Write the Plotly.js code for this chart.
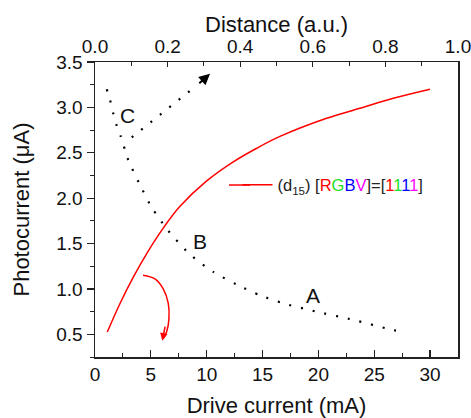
<!DOCTYPE html>
<html>
<head>
<meta charset="utf-8">
<script src="https://cdn.plot.ly/plotly-3.0.1.min.js"></script>
<style>html,body{margin:0;padding:0;background:#fff;}#plot{width:471px;height:418px;}</style>
</head>
<body>
<div id="plot"></div>
<script>
// Red photocurrent curve (d15) [RGBV]=[1111]
const driveCurrent = [1.10, 2.24, 3.43, 4.63, 6.11, 7.61, 10.0, 12.38, 14.48, 16.56, 20.74, 23.72, 26.71, 29.99];
const photocurrent = [0.525, 0.84, 1.13, 1.39, 1.67, 1.91, 2.19, 2.40, 2.55, 2.68, 2.88, 2.99, 3.10, 3.20];

// Red hook arrow
const hookX = [4.30, 5.37, 6.11, 6.56, 6.62, 6.42, 6.15];
const hookY = [1.15, 1.11, 1.00, 0.84, 0.67, 0.53, 0.46];
const hookTip = [6.03, 0.43];

// Black dotted trajectory C -> B -> A
const pathX = [1.05, 1.35, 1.64, 1.94, 2.30, 2.98, 3.97, 5.08, 6.56, 8.50, 10.59, 12.69, 14.77, 16.9, 19.8, 23.1, 26.4, 27.6];
const pathY = [3.20, 3.08, 2.93, 2.80, 2.684, 2.42, 2.16, 1.897, 1.64, 1.38, 1.187, 1.048, 0.93, 0.84, 0.75, 0.66, 0.555, 0.525];

// Black dotted arrow from C
const arrowX = [3.29, 8.8];
const arrowY = [2.67, 3.21];
const arrowTip = [10.3, 3.37];

// Labels
const labelText = ['C', 'B', 'A'];
const labelX = [2.95, 9.4, 19.5];
const labelY = [2.915, 1.518, 0.93];

const topTicks = [0, 0.2, 0.4, 0.6, 0.8, 1.0];
const topTickText = ['0.0', '0.2', '0.4', '0.6', '0.8', '1.0'];
const topTitle = 'Distance (a.u.)';

const FONT = 'Arial, "Liberation Sans", sans-serif';
const legendName = '(d<sub>15</sub>) [<span style="color:#ff0000">R</span><span style="color:#22dd22">G</span><span style="color:#0000ff">B</span><span style="color:#ff00ff">V</span>]=[<span style="color:#ff0000">1</span><span style="color:#22dd22">1</span><span style="color:#0000ff">1</span><span style="color:#ff00ff">1</span>]';

const traces = [
  {x: pathX, y: pathY, mode: 'lines', line: {color: '#000', width: 2.2, dash: '2px,10px', shape: 'spline', smoothing: 0.6}, showlegend: false, hoverinfo: 'skip'},
  {x: arrowX, y: arrowY, mode: 'lines', line: {color: '#000', width: 2.2, dash: '2px,10px'}, showlegend: false, hoverinfo: 'skip'},
  {x: hookX, y: hookY, mode: 'lines', line: {color: '#ff0000', width: 1.5, shape: 'spline'}, showlegend: false, hoverinfo: 'skip'},
  {x: driveCurrent, y: photocurrent, mode: 'lines', name: legendName, line: {color: '#ff0000', width: 1.5, shape: 'spline', smoothing: 1}},
  {x: topTicks, y: topTicks.map(() => null), xaxis: 'x2', mode: 'lines', showlegend: false, hoverinfo: 'skip'}
];

const TICKFONT = {family: FONT, size: 19, color: '#111'};
const TITLEFONT = {family: FONT, size: 22, color: '#111'};

const annotations = labelText.map((t, i) => ({
  x: labelX[i], y: labelY[i], xref: 'x', yref: 'y', text: t, showarrow: false,
  font: {family: FONT, size: 21, color: '#111'}
}));
annotations.push({
  x: arrowTip[0], y: arrowTip[1], xref: 'x', yref: 'y', ax: 9.2, ay: 3.25, axref: 'x', ayref: 'y',
  text: '', showarrow: true, arrowhead: 2, arrowsize: 1.1, arrowwidth: 2, arrowcolor: '#000'
});
annotations.push({
  x: hookTip[0], y: hookTip[1], xref: 'x', yref: 'y', ax: 6.3, ay: 0.6, axref: 'x', ayref: 'y',
  text: '', showarrow: true, arrowhead: 2, arrowsize: 1, arrowwidth: 1.5, arrowcolor: '#ff0000'
});
// top axis title
annotations.push({
  x: 0.5, y: 1 + 38 / 295, xref: 'paper', yref: 'paper', xanchor: 'center', yanchor: 'middle',
  text: topTitle, showarrow: false, font: TITLEFONT
});

const axisCommon = {
  showgrid: false, zeroline: false, showline: true, linecolor: '#222', linewidth: 1.5,
  ticklen: 7, tickwidth: 1.2, tickcolor: '#222', tickfont: TICKFONT, ticklabeloverflow: 'allow'
};

const layout = {
  width: 471, height: 418,
  margin: {l: 95, r: 13, t: 62, b: 61},
  paper_bgcolor: '#fff', plot_bgcolor: '#fff',
  font: {family: FONT, color: '#111'},
  xaxis: Object.assign({}, axisCommon, {
    range: [0, 32.5], dtick: 5, tick0: 0, mirror: true, ticks: 'inside',
    minor: {dtick: 2.5, ticks: 'inside', ticklen: 4, tickcolor: '#222', tickwidth: 1},
    title: {text: 'Drive current (mA)', font: TITLEFONT, standoff: 14}
  }),
  xaxis2: Object.assign({}, axisCommon, {
    range: [0, 1], tickmode: 'array', tickvals: topTicks, ticktext: topTickText,
    overlaying: 'x', side: 'top', anchor: 'y',
    ticks: 'inside', ticklen: 5,
    minor: {dtick: 0.1, ticks: 'inside', ticklen: 4, tickcolor: '#222', tickwidth: 1}
  }),
  yaxis: Object.assign({}, axisCommon, {
    range: [0.25, 3.5], dtick: 0.5, tick0: 0.5, tickformat: '.1f', mirror: true, ticks: 'outside',
    minor: {dtick: 0.25, ticks: 'outside', ticklen: 4, tickcolor: '#222', tickwidth: 1},
    title: {text: 'Photocurrent (μA)', font: TITLEFONT, standoff: 20}
  }),
  showlegend: true,
  legend: {x: 0.3926, y: 0.583, xanchor: 'left', yanchor: 'middle', bgcolor: 'rgba(0,0,0,0)', borderwidth: 0,
    font: {family: FONT, size: 16.5, color: '#222'}},
  shapes: [
    {type: 'line', xref: 'paper', yref: 'paper', x0: (229 - 95) / 363, x1: (250 - 95) / 363,
     y0: 0.583, y1: 0.583, line: {color: '#ff0000', width: 1.5}}
  ],
  annotations: annotations
};

Plotly.newPlot('plot', traces, layout, {displayModeBar: false, staticPlot: true});
</script>
</body>
</html>
